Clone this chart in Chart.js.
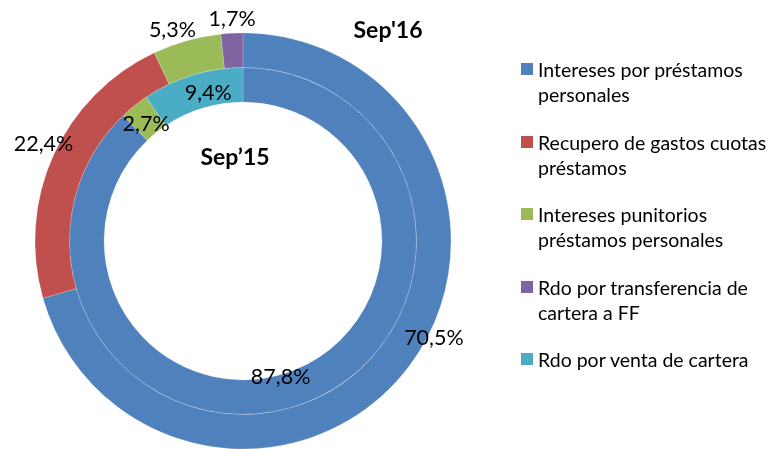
<!DOCTYPE html>
<html>
<head>
<meta charset="utf-8">
<script src="https://cdn.jsdelivr.net/npm/chart.js@4.4.0/dist/chart.umd.min.js"></script>
<style>
    body { margin: 0; background: #fff; }
    #wrap { position: relative; width: 779px; height: 449px; overflow: hidden; }
    #legend { position: absolute; left: 521px; top: 57px; font-family: Lato, sans-serif; font-size: 19.5px; color: #000; }
    .item { position: relative; padding-left: 17px; line-height: 25px; margin-bottom: 22.5px; }
    .item span.box { position: absolute; left: 0; top: 6px; width: 12px; height: 12px; }
</style>
</head>
<body>
<div id="wrap">
    <canvas id="chart" width="779" height="449"></canvas>
    <div id="legend"></div>
</div>
<script>
// data
const categories = [
    ["Intereses por préstamos", "personales"],
    ["Recupero de gastos cuotas", "préstamos"],
    ["Intereses punitorios", "préstamos personales"],
    ["Rdo por transferencia de", "cartera a FF"],
    ["Rdo por venta de cartera"]
]
const sep16 = [70.5, 22.4, 5.3, 1.7, 0]
const sep15 = [87.8, 0, 2.7, 0, 9.4]
const colors = ["#4F81BD", "#C0504D", "#9BBB59", "#8064A2", "#4BACC6"]

// legend
const legendEle = document.getElementById("legend")
categories.forEach((lines, i) => {
    let div = document.createElement("div")
    div.className = "item"
    div.innerHTML = `<span class="box" style="background:${colors[i]}"></span>` + lines.join("<br>")
    legendEle.appendChild(div)
})

// where along each arc the % label sits (fraction of the arc) and how far from the ring edge
const labelAnchor = [[0.46, 0.52, 0.35, 0.54, 0.5], [0.52, 0.5, 0.41, 0.5, 0.61]]
const labelRadius = [r => r.outer + 14, r => r.inner + 13]
const labelRadiusFirst = [6, 2]

const ringLabels = {
    id: "ringLabels",
    afterDatasetsDraw(chart) {
        const ctx = chart.ctx
        ctx.save()
        ctx.font = "21.5px Lato"
        ctx.fillStyle = "#000"
        ctx.textAlign = "center"
        ctx.textBaseline = "middle"
        chart.data.datasets.forEach((ds, di) => {
            chart.getDatasetMeta(di).data.forEach((arc, i) => {
                const v = ds.data[i]
                if (!v) return
                const t = labelAnchor[di][i]
                const a = arc.startAngle + (arc.endAngle - arc.startAngle) * t
                let r = labelRadius[di]({outer: arc.outerRadius, inner: arc.innerRadius})
                if (i === 0) r = di === 0 ? arc.outerRadius + labelRadiusFirst[0] : arc.innerRadius + labelRadiusFirst[1]
                ctx.fillText(v.toFixed(1).replace(".", ",") + "%", arc.x + Math.cos(a) * r, arc.y + Math.sin(a) * r)
            })
        })
        ctx.font = "bold 23px Lato"
        ctx.fillText("Sep'16", 388, 31)
        ctx.fillText("Sep\u201915", 235, 158)
        ctx.restore()
    }
}

new Chart(document.getElementById("chart"), {
    type: "doughnut",
    data: {
        labels: categories.map(c => c.join(" ")),
        datasets: [
            { label: "Sep'16", data: sep16, backgroundColor: colors },
            { label: "Sep'15", data: sep15, backgroundColor: colors }
        ]
    },
    options: {
        responsive: false,
        animation: false,
        radius: 208,
        cutout: "66.8%",
        layout: { padding: { left: 35, right: 328, top: 33, bottom: 0 } },
        elements: {
            arc: {
                borderColor: "rgba(255,255,255,0.3)",
                borderWidth: ctx => ctx.raw > 0 ? 0.6 : 0,
                hoverOffset: 0
            }
        },
        plugins: {
            legend: { display: false },
            tooltip: { enabled: false }
        }
    },
    plugins: [ringLabels]
})
</script>
</body>
</html>
